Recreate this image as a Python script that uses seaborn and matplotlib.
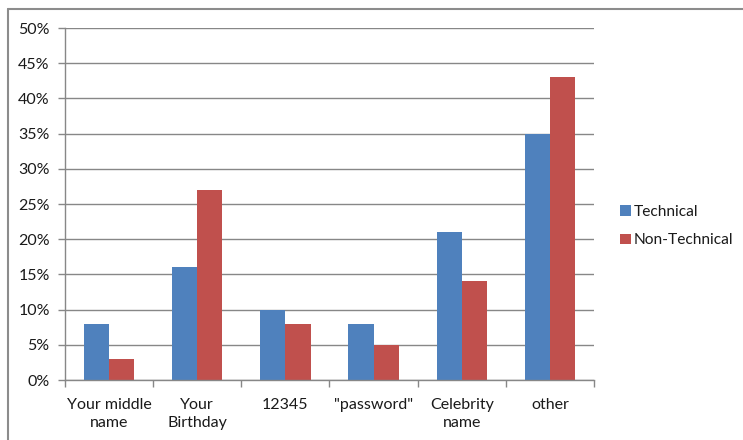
import matplotlib
matplotlib.use("Agg")
import matplotlib.pyplot as plt
from matplotlib.lines import Line2D
from matplotlib.patches import Patch
from matplotlib.ticker import FuncFormatter, MultipleLocator
import seaborn as sns
import pandas as pd

categories = ["Your middle\nname", "Your\nBirthday", "12345", "\"password\"", "Celebrity\nname", "other"]
technical = [8, 16, 10, 8, 21, 35]
non_technical = [3, 27, 8, 5, 14, 43]
series = ["Technical", "Non-Technical"]
colors = ["#4F81BD", "#C0504D"]

df = pd.DataFrame({
    "category": categories * 2,
    "value": technical + non_technical,
    "group": [series[0]] * len(categories) + [series[1]] * len(categories),
})

sns.set_theme(style="white")
plt.rcParams["font.family"] = ["Lato", "DejaVu Sans"]

fig = plt.figure(figsize=(7.43, 4.40), dpi=100)
ax = fig.add_axes([65 / 743, 1 - 380 / 440, (594 - 65) / 743, (380 - 28) / 440])

sns.barplot(data=df, x="category", y="value", hue="group", palette=colors,
            width=0.572, gap=0, saturation=1, ax=ax, legend=False,
            edgecolor="none", linewidth=0)

ax.set_ylim(0, 50)
ax.set_xlim(-0.5, len(categories) - 0.5)
ax.yaxis.set_major_locator(MultipleLocator(5))
ax.yaxis.set_major_formatter(FuncFormatter(lambda v, _: f"{v:.0f}%"))
ax.set_axisbelow(True)
ax.yaxis.grid(True, color="#878787", linewidth=1.0)
ax.xaxis.grid(False)
ax.set_xlabel("")
ax.set_ylabel("")

for side in ["top", "right"]:
    ax.spines[side].set_visible(False)
for side in ["left", "bottom"]:
    ax.spines[side].set_color("#878787")
    ax.spines[side].set_linewidth(1.0)

ax.tick_params(axis="y", which="major", left=True, length=5, width=1,
               color="#878787", labelsize=11.5, labelcolor="#1a1a1a", pad=6)
ax.tick_params(axis="x", which="major", bottom=False, labelsize=11.5,
               labelcolor="#1a1a1a", pad=7)
# category separators below the x axis
ax.set_xticks(range(len(categories)))
ax.set_xticklabels(categories, linespacing=1.4)
ax.set_xticks([i - 0.5 for i in range(len(categories) + 1)], minor=True)
ax.tick_params(axis="x", which="minor", bottom=True, length=5, width=1,
               color="#878787")

handles = [Patch(facecolor=c, edgecolor="none") for c in colors]
fig.legend(handles, series, loc="center left", bbox_to_anchor=(606 / 743, 1 - 226 / 440),
           frameon=False, fontsize=11.2, handlelength=0.7, handleheight=0.7,
           handletextpad=0.2, labelspacing=0.95, labelcolor="#1a1a1a")

# outer chart frame (top and left edges)
fig.add_artist(Line2D([8 / 743, 1], [1 - 9 / 440, 1 - 9 / 440], color="#8c8c8c",
                      linewidth=1.5, transform=fig.transFigure))
fig.add_artist(Line2D([8 / 743, 8 / 743], [0, 1 - 9 / 440], color="#8c8c8c",
                      linewidth=1.5, transform=fig.transFigure))

fig.savefig("out.png", dpi=100)
